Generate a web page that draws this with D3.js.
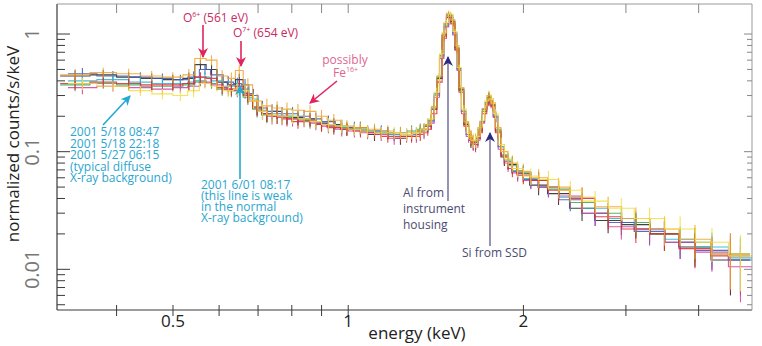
<!DOCTYPE html>
<html>
<head>
<meta charset="utf-8">
<script src="https://cdn.jsdelivr.net/npm/d3@7/dist/d3.min.js"></script>
<style>
  body { margin: 0; background: #fff; }
  text { font-family: 'Open Sans', sans-serif; }
</style>
</head>
<body>
<svg id="chart" width="762" height="346"></svg>
<script>
// bin edges (keV) for the two binning schemes
const edgesA = [0.32, 0.36, 0.40, 0.44, 0.48, 0.52, 0.545, 0.57, 0.595, 0.62, 0.64, 0.66, 0.685, 0.71, 0.74, 0.77, 0.80, 0.84, 0.88, 0.92, 0.97, 1.02, 1.08, 1.14, 1.20, 1.26, 1.31, 1.35, 1.39, 1.42, 1.45, 1.475, 1.50, 1.525, 1.55, 1.58, 1.61, 1.64, 1.67, 1.70, 1.73, 1.76, 1.79, 1.83, 1.88, 1.95, 2.05, 2.2, 2.4, 2.65, 2.95, 3.3, 3.7, 4.2, 4.9];
const edgesB = [0.33, 0.37, 0.42, 0.46, 0.50, 0.53, 0.555, 0.58, 0.61, 0.635, 0.655, 0.675, 0.70, 0.725, 0.755, 0.785, 0.82, 0.86, 0.90, 0.95, 1.00, 1.05, 1.11, 1.17, 1.23, 1.29, 1.33, 1.37, 1.405, 1.435, 1.46, 1.488, 1.512, 1.538, 1.565, 1.595, 1.625, 1.655, 1.685, 1.715, 1.745, 1.775, 1.81, 1.855, 1.91, 2.0, 2.12, 2.3, 2.52, 2.8, 3.1, 3.5, 3.95, 4.5, 4.95];

// fractional 1-sigma errors per bin
const relErr = [0.12, 0.1, 0.1, 0.1, 0.1, 0.12, 0.1, 0.1, 0.12, 0.12, 0.12, 0.14, 0.15, 0.15, 0.14, 0.14, 0.13, 0.13, 0.13, 0.13, 0.12, 0.12, 0.12, 0.12, 0.12, 0.12, 0.12, 0.12, 0.1, 0.08, 0.06, 0.05, 0.05, 0.06, 0.08, 0.12, 0.14, 0.14, 0.12, 0.1, 0.1, 0.1, 0.14, 0.16, 0.16, 0.16, 0.18, 0.2, 0.22, 0.22, 0.24, 0.28, 0.32, 0.5];

// normalized counts/s/keV, binning A
const countsBlack = [0.44, 0.45, 0.43, 0.42, 0.41, 0.42, 0.55, 0.50, 0.39, 0.37, 0.41, 0.31, 0.24, 0.21, 0.22, 0.20, 0.195, 0.19, 0.175, 0.17, 0.155, 0.16, 0.14, 0.145, 0.13, 0.14, 0.15, 0.165, 0.23, 0.42, 0.98, 1.45, 1.28, 0.76, 0.34, 0.17, 0.125, 0.12, 0.15, 0.23, 0.29, 0.25, 0.15, 0.09, 0.078, 0.065, 0.052, 0.044, 0.033, 0.026, 0.024, 0.020, 0.0155, 0.012];
const countsRed = [0.38, 0.39, 0.38, 0.37, 0.37, 0.38, 0.43, 0.42, 0.35, 0.34, 0.36, 0.30, 0.235, 0.21, 0.20, 0.19, 0.18, 0.185, 0.17, 0.16, 0.155, 0.15, 0.145, 0.135, 0.135, 0.135, 0.14, 0.155, 0.21, 0.39, 0.92, 1.38, 1.22, 0.73, 0.32, 0.165, 0.13, 0.115, 0.145, 0.21, 0.27, 0.245, 0.145, 0.092, 0.072, 0.063, 0.057, 0.047, 0.040, 0.028, 0.022, 0.020, 0.015, 0.013];
const countsOrange = [0.45, 0.47, 0.46, 0.44, 0.43, 0.45, 0.62, 0.60, 0.44, 0.42, 0.49, 0.37, 0.27, 0.245, 0.235, 0.23, 0.225, 0.22, 0.20, 0.185, 0.165, 0.16, 0.155, 0.15, 0.145, 0.145, 0.15, 0.17, 0.24, 0.44, 1.02, 1.50, 1.32, 0.80, 0.35, 0.18, 0.135, 0.125, 0.16, 0.23, 0.30, 0.26, 0.16, 0.10, 0.08, 0.068, 0.060, 0.050, 0.041, 0.034, 0.027, 0.022, 0.018, 0.0135];
const countsGreen = [0.37, 0.38, 0.37, 0.36, 0.36, 0.37, 0.40, 0.38, 0.34, 0.33, 0.34, 0.29, 0.23, 0.205, 0.20, 0.195, 0.19, 0.18, 0.17, 0.165, 0.16, 0.155, 0.15, 0.145, 0.145, 0.15, 0.155, 0.17, 0.24, 0.43, 0.96, 1.40, 1.24, 0.74, 0.33, 0.175, 0.13, 0.12, 0.155, 0.22, 0.28, 0.25, 0.155, 0.094, 0.076, 0.066, 0.057, 0.048, 0.037, 0.030, 0.025, 0.020, 0.017, 0.0135];

// binning B
const countsBlue = [0.46, 0.44, 0.43, 0.42, 0.41, 0.43, 0.50, 0.45, 0.39, 0.38, 0.37, 0.30, 0.235, 0.22, 0.21, 0.21, 0.20, 0.19, 0.18, 0.165, 0.16, 0.15, 0.15, 0.14, 0.14, 0.145, 0.155, 0.185, 0.31, 0.66, 1.22, 1.44, 1.02, 0.51, 0.22, 0.14, 0.12, 0.13, 0.18, 0.26, 0.27, 0.20, 0.11, 0.083, 0.068, 0.058, 0.050, 0.039, 0.030, 0.025, 0.021, 0.017, 0.0145, 0.012];
const countsMagenta = [0.35, 0.36, 0.35, 0.34, 0.35, 0.36, 0.39, 0.37, 0.34, 0.33, 0.32, 0.27, 0.22, 0.20, 0.195, 0.19, 0.185, 0.175, 0.165, 0.155, 0.15, 0.145, 0.14, 0.13, 0.135, 0.135, 0.145, 0.175, 0.29, 0.62, 1.15, 1.38, 0.98, 0.49, 0.21, 0.135, 0.118, 0.125, 0.175, 0.25, 0.26, 0.195, 0.105, 0.08, 0.066, 0.057, 0.050, 0.042, 0.030, 0.023, 0.022, 0.017, 0.014, 0.0105];
const countsCyan = [0.40, 0.41, 0.39, 0.38, 0.38, 0.39, 0.43, 0.40, 0.36, 0.36, 0.34, 0.28, 0.225, 0.21, 0.20, 0.20, 0.19, 0.18, 0.17, 0.16, 0.155, 0.15, 0.145, 0.14, 0.14, 0.14, 0.15, 0.18, 0.30, 0.64, 1.18, 1.40, 1.00, 0.50, 0.22, 0.14, 0.122, 0.13, 0.18, 0.255, 0.265, 0.20, 0.11, 0.085, 0.069, 0.059, 0.05, 0.041, 0.033, 0.027, 0.022, 0.018, 0.0155, 0.0125];
const countsYellow = [0.38, 0.36, 0.33, 0.31, 0.30, 0.33, 0.38, 0.36, 0.33, 0.34, 0.33, 0.27, 0.22, 0.205, 0.20, 0.20, 0.19, 0.18, 0.17, 0.165, 0.155, 0.15, 0.145, 0.145, 0.14, 0.145, 0.155, 0.19, 0.32, 0.68, 1.25, 1.48, 1.05, 0.52, 0.23, 0.145, 0.125, 0.135, 0.185, 0.27, 0.28, 0.21, 0.115, 0.088, 0.072, 0.062, 0.058, 0.047, 0.038, 0.033, 0.027, 0.022, 0.017, 0.013];

const xTickValues = [0.4, 0.5, 0.6, 0.7, 0.8, 0.9, 1, 2, 3, 4];
const xTickLabels = ['0.5', '1', '2'];
const yTickLabels = ['1', '0.1', '0.01'];

const series = [
  { color: '#222222', edges: edgesA, values: countsBlack },
  { color: '#3aa64a', edges: edgesA, values: countsGreen },
  { color: '#3b56b5', edges: edgesB, values: countsBlue },
  { color: '#2ab5cc', edges: edgesB, values: countsCyan },
  { color: '#d43d9c', edges: edgesB, values: countsMagenta },
  { color: '#e5262f', edges: edgesA, values: countsRed },
  { color: '#f0a32e', edges: edgesA, values: countsOrange },
  { color: '#f3e03c', edges: edgesB, values: countsYellow },
];

const W = 762, H = 346;
const m = { left: 57, right: 752, top: 4, bottom: 310 };

const x = d3.scaleLog().domain([0.316, 4.94]).range([m.left, m.right]);
const y = d3.scaleLog().domain([0.00451, 1.80]).range([m.bottom, m.top]);

const svg = d3.select('#chart');
svg.append('rect').attr('width', W).attr('height', H).attr('fill', '#fff');

const defs = svg.append('defs');
defs.append('clipPath').attr('id', 'plot-clip')
  .append('rect')
  .attr('x', m.left).attr('y', m.top)
  .attr('width', m.right - m.left).attr('height', m.bottom - m.top);

function addMarker(id, color) {
  defs.append('marker')
    .attr('id', id)
    .attr('viewBox', '0 0 10 10')
    .attr('refX', 9).attr('refY', 5)
    .attr('markerWidth', 10).attr('markerHeight', 10)
    .attr('markerUnits', 'userSpaceOnUse')
    .attr('orient', 'auto')
    .append('path')
    .attr('d', 'M0,0 L10,5 L0,10 L3,5 Z')
    .attr('fill', color);
}
addMarker('arrow-red', '#e0245e');
addMarker('arrow-cyan', '#23a9d4');
addMarker('arrow-navy', '#2a2a80');

// spectra
const plot = svg.append('g').attr('clip-path', 'url(#plot-clip)');
const stepLine = d3.line().x((d) => x(d[0])).y((d) => y(d[1]));

series.forEach((s) => {
  const pts = [];
  s.values.forEach((v, i) => {
    pts.push([s.edges[i], v]);
    pts.push([s.edges[i + 1], v]);
  });
  const g = plot.append('g').attr('opacity', 0.85);
  g.append('path')
    .attr('d', stepLine(pts))
    .attr('fill', 'none')
    .attr('stroke', s.color)
    .attr('stroke-width', 1.1);
  g.selectAll('line')
    .data(s.values)
    .join('line')
    .attr('x1', (d, i) => x(Math.sqrt(s.edges[i] * s.edges[i + 1])))
    .attr('x2', (d, i) => x(Math.sqrt(s.edges[i] * s.edges[i + 1])))
    .attr('y1', (d, i) => y(d * (1 - relErr[i])))
    .attr('y2', (d, i) => y(d * (1 + relErr[i])))
    .attr('stroke', s.color)
    .attr('stroke-width', 1.1);
});

// frame
const axisColor = '#3a3a3a';
svg.append('line').attr('x1', m.left).attr('x2', m.right).attr('y1', m.bottom).attr('y2', m.bottom)
  .attr('stroke', axisColor).attr('stroke-width', 1.2);
svg.append('line').attr('x1', m.left).attr('x2', m.left).attr('y1', m.top).attr('y2', m.bottom)
  .attr('stroke', axisColor).attr('stroke-width', 1.2);
svg.append('line').attr('x1', m.left).attr('x2', m.right).attr('y1', m.top).attr('y2', m.top)
  .attr('stroke', '#999').attr('stroke-width', 1);
svg.append('line').attr('x1', m.right).attr('x2', m.right).attr('y1', m.top).attr('y2', m.bottom)
  .attr('stroke', '#999').attr('stroke-width', 1);

// x ticks
svg.append('g').selectAll('line')
  .data(xTickValues)
  .join('line')
  .attr('x1', (d) => x(d)).attr('x2', (d) => x(d))
  .attr('y1', m.bottom - 5).attr('y2', m.bottom + 6)
  .attr('stroke', axisColor);
svg.append('g').selectAll('line')
  .data(xTickValues)
  .join('line')
  .attr('x1', (d) => x(d)).attr('x2', (d) => x(d))
  .attr('y1', m.top).attr('y2', m.top + 9)
  .attr('stroke', '#888');
svg.append('g').selectAll('text')
  .data(xTickLabels)
  .join('text')
  .attr('x', (d) => x(+d))
  .attr('y', 327)
  .attr('text-anchor', 'middle')
  .attr('font-size', 17)
  .attr('fill', '#222')
  .text((d) => d);

// y ticks
const yTicks = y.ticks();
const isMajor = (d) => Math.abs(Math.log10(d) - Math.round(Math.log10(d))) < 1e-6;
svg.append('g').selectAll('line')
  .data(yTicks)
  .join('line')
  .attr('x1', m.left).attr('x2', (d) => m.left + (isMajor(d) ? 13 : 8))
  .attr('y1', (d) => y(d)).attr('y2', (d) => y(d))
  .attr('stroke', axisColor);
svg.append('g').selectAll('line')
  .data(yTicks)
  .join('line')
  .attr('x1', m.right).attr('x2', (d) => m.right - (isMajor(d) ? 8 : 5))
  .attr('y1', (d) => y(d)).attr('y2', (d) => y(d))
  .attr('stroke', '#888');
svg.append('g').selectAll('text')
  .data(yTickLabels)
  .join('text')
  .attr('transform', (d) => `translate(39,${y(+d)}) rotate(-90)`)
  .attr('text-anchor', 'middle')
  .attr('font-family', 'Liberation Sans, sans-serif')
  .attr('font-size', 20)
  .attr('fill', '#777')
  .text((d) => d);

// axis titles
svg.append('text')
  .attr('transform', 'translate(19,144) rotate(-90)')
  .attr('text-anchor', 'middle')
  .attr('font-size', 17)
  .attr('fill', '#222')
  .text('normalized counts/s/keV');
svg.append('text')
  .attr('x', 417).attr('y', 339)
  .attr('text-anchor', 'middle')
  .attr('font-size', 17)
  .attr('fill', '#222')
  .text('energy (keV)');

// annotations
const ann = svg.append('g').attr('font-size', 12);

function arrow(x1, y1, x2, y2, color, marker, width) {
  ann.append('line')
    .attr('x1', x1).attr('y1', y1).attr('x2', x2).attr('y2', y2)
    .attr('stroke', color).attr('stroke-width', width || 1.5)
    .attr('marker-end', `url(#${marker})`);
}

function ionLabel(tx, ty, base, sup, rest, color) {
  const t = ann.append('text').attr('x', tx).attr('y', ty).attr('fill', color);
  t.append('tspan').text(base);
  t.append('tspan').attr('font-size', 7).attr('dy', -5).text(sup);
  if (rest) t.append('tspan').attr('dy', 5).text(rest);
}

ionLabel(183, 22, 'O', '6+', ' (561 eV)', '#c92a62');
ionLabel(233, 37, 'O', '7+', ' (654 eV)', '#c92a62');
arrow(203, 25, 203, 57, '#e0245e', 'arrow-red', 1.6);
arrow(241, 41, 241, 66, '#e0245e', 'arrow-red', 1.6);

ann.append('text').attr('x', 345).attr('y', 64).attr('text-anchor', 'middle')
  .attr('fill', '#e0678f').text('possibly');
ionLabel(333, 77, 'Fe', '16+', '', '#e0678f');
arrow(337, 81, 310, 103, '#e0245e', 'arrow-red', 1.6);

const cyanText = '#2aa6cf';
arrow(103, 125, 130, 96, '#23a9d4', 'arrow-cyan', 1.6);
['2001 5/18 08:47', '2001 5/18 22:18', '2001 5/27 06:15', '(typical diffuse', 'X-ray background)']
  .forEach((line, i) => {
    ann.append('text').attr('x', 70).attr('y', 136 + i * 11.5).attr('fill', cyanText).text(line);
  });
arrow(240, 179, 240, 86, '#23a9d4', 'arrow-cyan', 1.6);
['2001 6/01 08:17', '(this line is weak', 'in the normal', 'X-ray background)']
  .forEach((line, i) => {
    ann.append('text').attr('x', 201).attr('y', 189 + i * 11).attr('fill', cyanText).text(line);
  });

const navyText = '#4b4b70';
arrow(448, 201, 448, 57, '#5d5d88', 'arrow-navy', 1.3);
arrow(490, 246, 490, 133, '#5d5d88', 'arrow-navy', 1.3);
['Al from', 'instrument', 'housing'].forEach((line, i) => {
  ann.append('text').attr('x', 403).attr('y', 197 + i * 16).attr('fill', navyText).text(line);
});
ann.append('text').attr('x', 462).attr('y', 257).attr('fill', navyText).text('Si from SSD');
</script>
</body>
</html>
